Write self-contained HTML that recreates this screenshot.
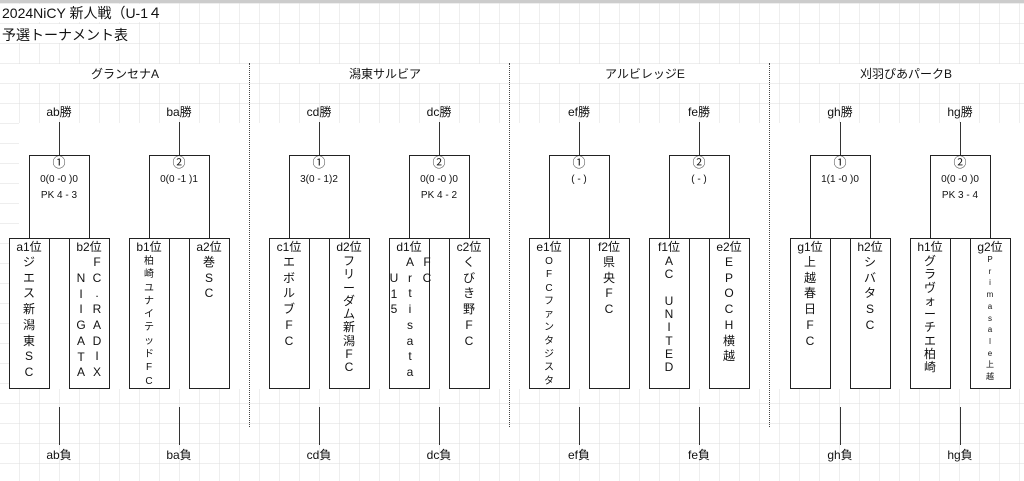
<!DOCTYPE html>
<html><head><meta charset="utf-8">
<style>
body{margin:0;width:1024px;height:481px;overflow:hidden;background:#fff;position:relative;font-family:"Liberation Sans","Noto Sans CJK JP",sans-serif;color:#111}
.a{position:absolute}
.t{position:absolute;font-size:12px;text-align:center;white-space:nowrap;line-height:14px}
.box{position:absolute;border:1.3px solid #222;background:#fff;box-sizing:border-box}
.vl{position:absolute;width:1.3px;background:#333}
.col{position:absolute;width:20px;font-size:12px;line-height:15.7px;text-align:center}
.c9{line-height:13.3px}
.dot{position:absolute;width:0;border-left:1.5px dotted #444;top:63px;height:364px}
</style></head><body>
<svg class="a" style="left:0;top:0" width="1024" height="481">
<defs><pattern id="g" x="-1" y="3" width="20" height="20" patternUnits="userSpaceOnUse">
<path d="M0 0H20M0 0V20" stroke="#dcdcdc" stroke-width="1" fill="none"/></pattern></defs>
<rect width="1024" height="481" fill="url(#g)"/>
<rect x="0" y="0" width="1024" height="3" fill="#ccc"/>
<rect x="0" y="4" width="170" height="18" fill="#fff"/>
<rect x="0" y="24" width="120" height="19" fill="#fff"/>
<rect x="19" y="123" width="1005" height="266" fill="#fff"/>
<rect x="19" y="64" width="221" height="19" fill="#fff"/>
<rect x="279" y="64" width="221" height="19" fill="#fff"/>
<rect x="539" y="64" width="221" height="19" fill="#fff"/>
<rect x="800" y="64" width="224" height="19" fill="#fff"/>
</svg>
<div class="a" style="left:2px;top:3px;font-size:14px;">2024NiCY 新人戦（U-1４</div>
<div class="a" style="left:2px;top:25px;font-size:14px;">予選トーナメント表</div>
<div class="dot" style="left:249px"></div>
<div class="dot" style="left:509px"></div>
<div class="dot" style="left:769px"></div>

<!-- Section 1 -->
<div class="a" style="left:0;top:0;width:250px;height:481px">
<div class="t" style="left:0;width:250px;top:67px">グランセナA</div>
<div class="t" style="left:29px;width:60px;top:105px">ab勝</div>
<div class="t" style="left:149px;width:60px;top:105px">ba勝</div>
<div class="vl" style="left:59px;top:122px;height:33px"></div>
<div class="vl" style="left:179px;top:122px;height:33px"></div>
<div class="box" style="left:29px;top:155px;width:61px;height:84px"></div>
<div class="box" style="left:149px;top:155px;width:61px;height:84px"></div>
<div class="t" style="left:29px;width:60px;top:156px;font-size:13px">①</div>
<div class="t" style="left:29px;width:60px;top:173px;font-size:10px">0(0 -0 )0</div>
<div class="t" style="left:29px;width:60px;top:189px;font-size:10px">PK 4 - 3</div>
<div class="t" style="left:149px;width:60px;top:156px;font-size:13px">②</div>
<div class="t" style="left:149px;width:60px;top:173px;font-size:10px">0(0 -1 )1</div>
<div class="box" style="left:9px;top:238px;width:41px;height:151px"></div>
<div class="box" style="left:69px;top:238px;width:41px;height:151px"></div>
<div class="box" style="left:129px;top:238px;width:41px;height:151px"></div>
<div class="box" style="left:189px;top:238px;width:41px;height:151px"></div>
<div class="t" style="left:9px;width:40px;top:240px">a1位</div>
<div class="t" style="left:69px;width:40px;top:240px">b2位</div>
<div class="t" style="left:129px;width:40px;top:240px">b1位</div>
<div class="t" style="left:189px;width:40px;top:240px">a2位</div>
<div class="col" style="left:19px;top:255px">ジ<br>エ<br>ス<br>新<br>潟<br>東<br>S<br>C</div>
<div class="col" style="left:71px;top:271px">N<br>I<br>I<br>G<br>A<br>T<br>A</div>
<div class="col" style="left:87px;top:255px">F<br>C<br>.<br>R<br>A<br>D<br>I<br>X</div>
<div class="col c9" style="left:139px;top:255px;font-size:10px">柏<br>崎<br>ユ<br>ナ<br>イ<br>テ<br>ッ<br>ド<br>F<br>C</div>
<div class="col" style="left:199px;top:255px">巻<br>S<br>C</div>
<div class="vl" style="left:59px;top:407px;height:38px"></div>
<div class="vl" style="left:179px;top:407px;height:38px"></div>
<div class="t" style="left:29px;width:60px;top:448px">ab負</div>
<div class="t" style="left:149px;width:60px;top:448px">ba負</div>
</div>

<!-- Section 2 -->
<div class="a" style="left:260px;top:0;width:250px;height:481px">
<div class="t" style="left:0;width:250px;top:67px">潟東サルビア</div>
<div class="t" style="left:29px;width:60px;top:105px">cd勝</div>
<div class="t" style="left:149px;width:60px;top:105px">dc勝</div>
<div class="vl" style="left:59px;top:122px;height:33px"></div>
<div class="vl" style="left:179px;top:122px;height:33px"></div>
<div class="box" style="left:29px;top:155px;width:61px;height:84px"></div>
<div class="box" style="left:149px;top:155px;width:61px;height:84px"></div>
<div class="t" style="left:29px;width:60px;top:156px;font-size:13px">①</div>
<div class="t" style="left:29px;width:60px;top:173px;font-size:10px">3(0 - 1)2</div>
<div class="t" style="left:149px;width:60px;top:156px;font-size:13px">②</div>
<div class="t" style="left:149px;width:60px;top:173px;font-size:10px">0(0 -0 )0</div>
<div class="t" style="left:149px;width:60px;top:189px;font-size:10px">PK 4 - 2</div>
<div class="box" style="left:9px;top:238px;width:41px;height:151px"></div>
<div class="box" style="left:69px;top:238px;width:41px;height:151px"></div>
<div class="box" style="left:129px;top:238px;width:41px;height:151px"></div>
<div class="box" style="left:189px;top:238px;width:41px;height:151px"></div>
<div class="t" style="left:9px;width:40px;top:240px">c1位</div>
<div class="t" style="left:69px;width:40px;top:240px">d2位</div>
<div class="t" style="left:129px;width:40px;top:240px">d1位</div>
<div class="t" style="left:189px;width:40px;top:240px">c2位</div>
<div class="col" style="left:19px;top:255px">エ<br>ボ<br>ル<br>ブ<br>F<br>C</div>
<div class="col c9" style="left:79px;top:255px">フ<br>リ<br>ー<br>ダ<br>ム<br>新<br>潟<br>F<br>C</div>
<div class="col" style="left:124px;top:271px">U<br>1<br>5</div>
<div class="col" style="left:140px;top:255px">A<br>r<br>t<br>i<br>s<br>a<br>t<br>a</div>
<div class="col" style="left:157px;top:255px">F<br>C</div>
<div class="col" style="left:199px;top:255px">く<br>び<br>き<br>野<br>F<br>C</div>
<div class="vl" style="left:59px;top:407px;height:38px"></div>
<div class="vl" style="left:179px;top:407px;height:38px"></div>
<div class="t" style="left:29px;width:60px;top:448px">cd負</div>
<div class="t" style="left:149px;width:60px;top:448px">dc負</div>
</div>

<!-- Section 3 -->
<div class="a" style="left:520px;top:0;width:250px;height:481px">
<div class="t" style="left:0;width:250px;top:67px">アルビレッジE</div>
<div class="t" style="left:29px;width:60px;top:105px">ef勝</div>
<div class="t" style="left:149px;width:60px;top:105px">fe勝</div>
<div class="vl" style="left:59px;top:122px;height:33px"></div>
<div class="vl" style="left:179px;top:122px;height:33px"></div>
<div class="box" style="left:29px;top:155px;width:61px;height:84px"></div>
<div class="box" style="left:149px;top:155px;width:61px;height:84px"></div>
<div class="t" style="left:29px;width:60px;top:156px;font-size:13px">①</div>
<div class="t" style="left:29px;width:60px;top:173px;font-size:10px">( - )</div>
<div class="t" style="left:149px;width:60px;top:156px;font-size:13px">②</div>
<div class="t" style="left:149px;width:60px;top:173px;font-size:10px">( - )</div>
<div class="box" style="left:9px;top:238px;width:41px;height:151px"></div>
<div class="box" style="left:69px;top:238px;width:41px;height:151px"></div>
<div class="box" style="left:129px;top:238px;width:41px;height:151px"></div>
<div class="box" style="left:189px;top:238px;width:41px;height:151px"></div>
<div class="t" style="left:9px;width:40px;top:240px">e1位</div>
<div class="t" style="left:69px;width:40px;top:240px">f2位</div>
<div class="t" style="left:129px;width:40px;top:240px">f1位</div>
<div class="t" style="left:189px;width:40px;top:240px">e2位</div>
<div class="col c9" style="left:19px;top:255px;font-size:10px">O<br>F<br>C<br>フ<br>ァ<br>ン<br>タ<br>ジ<br>ス<br>タ</div>
<div class="col" style="left:79px;top:255px">県<br>央<br>F<br>C</div>
<div class="col c9" style="left:139px;top:255px">A<br>C<br>&nbsp;<br>U<br>N<br>I<br>T<br>E<br>D</div>
<div class="col" style="left:199px;top:255px">E<br>P<br>O<br>C<br>H<br>横<br>越</div>
<div class="vl" style="left:59px;top:407px;height:38px"></div>
<div class="vl" style="left:179px;top:407px;height:38px"></div>
<div class="t" style="left:29px;width:60px;top:448px">ef負</div>
<div class="t" style="left:149px;width:60px;top:448px">fe負</div>
</div>

<!-- Section 4 -->
<div class="a" style="left:781px;top:0;width:243px;height:481px">
<div class="t" style="left:0;width:250px;top:67px">刈羽ぴあパークB</div>
<div class="t" style="left:29px;width:60px;top:105px">gh勝</div>
<div class="t" style="left:149px;width:60px;top:105px">hg勝</div>
<div class="vl" style="left:59px;top:122px;height:33px"></div>
<div class="vl" style="left:179px;top:122px;height:33px"></div>
<div class="box" style="left:29px;top:155px;width:61px;height:84px"></div>
<div class="box" style="left:149px;top:155px;width:61px;height:84px"></div>
<div class="t" style="left:29px;width:60px;top:156px;font-size:13px">①</div>
<div class="t" style="left:29px;width:60px;top:173px;font-size:10px">1(1 -0 )0</div>
<div class="t" style="left:149px;width:60px;top:156px;font-size:13px">②</div>
<div class="t" style="left:149px;width:60px;top:173px;font-size:10px">0(0 -0 )0</div>
<div class="t" style="left:149px;width:60px;top:189px;font-size:10px">PK 3 - 4</div>
<div class="box" style="left:9px;top:238px;width:41px;height:151px"></div>
<div class="box" style="left:69px;top:238px;width:41px;height:151px"></div>
<div class="box" style="left:129px;top:238px;width:41px;height:151px"></div>
<div class="box" style="left:189px;top:238px;width:41px;height:151px"></div>
<div class="t" style="left:9px;width:40px;top:240px">g1位</div>
<div class="t" style="left:69px;width:40px;top:240px">h2位</div>
<div class="t" style="left:129px;width:40px;top:240px">h1位</div>
<div class="t" style="left:189px;width:40px;top:240px">g2位</div>
<div class="col" style="left:19px;top:255px">上<br>越<br>春<br>日<br>F<br>C</div>
<div class="col" style="left:79px;top:255px">シ<br>バ<br>タ<br>S<br>C</div>
<div class="col c9" style="left:139px;top:255px">グ<br>ラ<br>ヴ<br>ォ<br>ー<br>チ<br>エ<br>柏<br>崎</div>
<div class="col" style="left:199px;top:254px;font-size:8px;line-height:11.7px">P<br>r<br>i<br>m<br>a<br>s<br>a<br>l<br>e<br>上<br>越</div>
<div class="vl" style="left:59px;top:407px;height:38px"></div>
<div class="vl" style="left:179px;top:407px;height:38px"></div>
<div class="t" style="left:29px;width:60px;top:448px">gh負</div>
<div class="t" style="left:149px;width:60px;top:448px">hg負</div>
</div>
</body></html>
